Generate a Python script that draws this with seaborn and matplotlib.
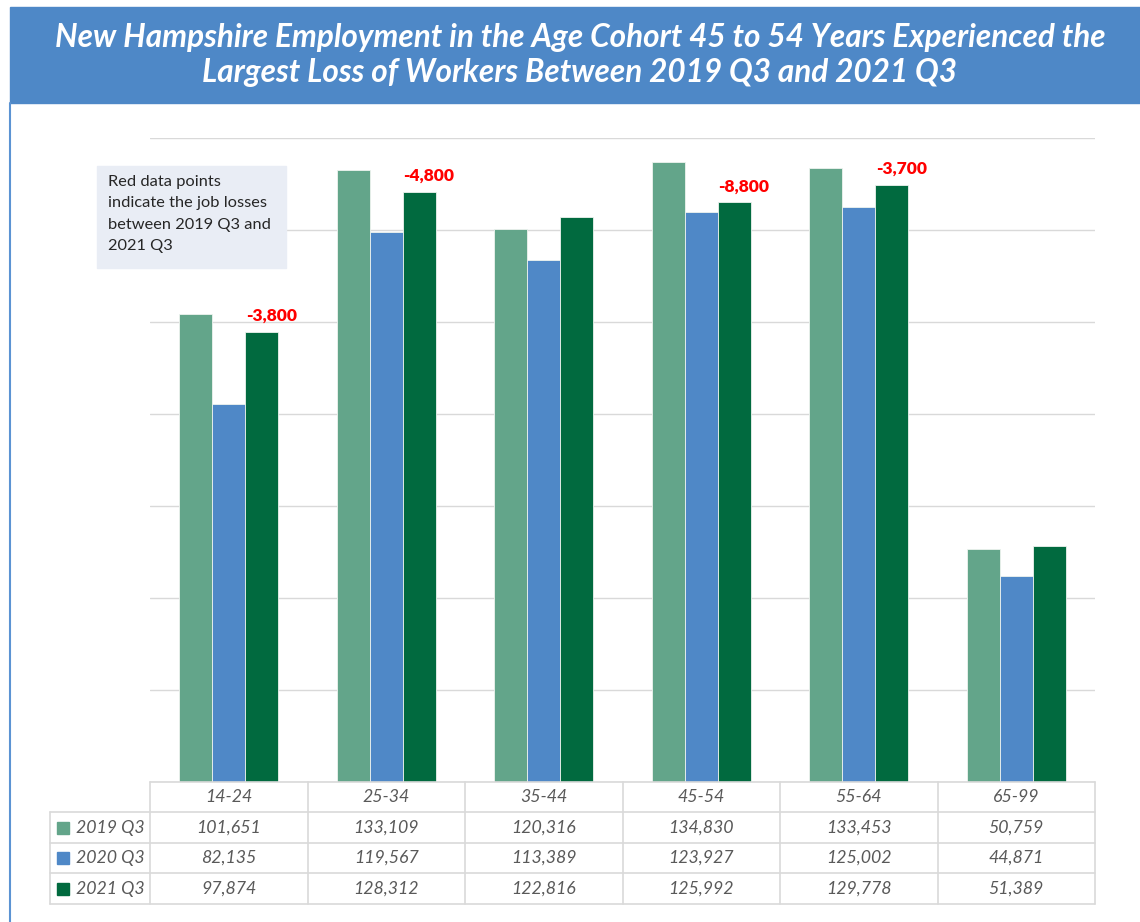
import matplotlib
matplotlib.use("Agg")
import matplotlib.pyplot as plt
import matplotlib.transforms as mtransforms
from matplotlib.patches import Rectangle
from matplotlib.lines import Line2D
import seaborn as sns
import pandas as pd

# Employment by age cohort, New Hampshire
cohorts = ["14-24", "25-34", "35-44", "45-54", "55-64", "65-99"]
quarters = ["2019 Q3", "2020 Q3", "2021 Q3"]
workers_2019q3 = [101651, 133109, 120316, 134830, 133453, 50759]
workers_2020q3 = [82135, 119567, 113389, 123927, 125002, 44871]
workers_2021q3 = [97874, 128312, 122816, 125992, 129778, 51389]
bar_colors = ["#63A58A", "#4F88C7", "#016A3F"]

title = ("New Hampshire Employment in the Age Cohort 45 to 54 Years Experienced the\n"
         "Largest Loss of Workers Between 2019 Q3 and 2021 Q3")
note = "Red data points\nindicate the job losses\nbetween 2019 Q3 and\n2021 Q3"

series = [workers_2019q3, workers_2020q3, workers_2021q3]
df = pd.DataFrame({
    "cohort": [c for _ in quarters for c in cohorts],
    "quarter": [q for q in quarters for _ in cohorts],
    "workers": [v for s in series for v in s],
})

sns.set_theme(style="white")
plt.rcParams["font.family"] = ["Lato", "DejaVu Sans"]

W, H = 1140, 922
fig = plt.figure(figsize=(W / 100, H / 100), dpi=100)
fig.patch.set_facecolor("white")


def fx(px):
    return px / W


def fy(py):
    return 1 - py / H


# Title banner and left frame line
fig.patches.append(Rectangle((fx(10), fy(103)), fx(1140) - fx(10), fy(7) - fy(103),
                             transform=fig.transFigure, color="#4E88C7", zorder=0))
fig.lines.append(Line2D([fx(10), fx(10)], [fy(103), fy(922)], transform=fig.transFigure,
                        color="#5B93D3", lw=1.5))
fig.text(fx(580), fy(55), title, ha="center", va="center", color="white",
         fontsize=22.7, fontweight="bold", fontstyle="italic", linespacing=1.27)

# Bar chart
ax = fig.add_axes([fx(150), fy(782), fx(1095) - fx(150), fy(138) - fy(782)])
sns.barplot(data=df, x="cohort", y="workers", hue="quarter", order=cohorts,
            hue_order=quarters, palette=bar_colors, saturation=1, width=0.63, gap=0,
            edgecolor="#EEF3EF", linewidth=0.6, legend=False, ax=ax)
ax.set_xlim(-0.5, len(cohorts) - 0.5)
ax.set_ylim(0, 140000)
ax.set_yticks(range(0, 140001, 20000))
ax.yaxis.grid(True, color="#D9D9D9", lw=1)
ax.set_axisbelow(True)
ax.set_xlabel("")
ax.set_ylabel("")
ax.set_xticklabels([])
ax.set_yticklabels([])
ax.tick_params(length=0)
for s in ax.spines.values():
    s.set_visible(False)

# Loss labels above the 2021 Q3 bars
for i, (a, b) in enumerate(zip(workers_2019q3, workers_2021q3)):
    diff = b - a
    if diff < 0:
        bar = ax.containers[2][i]
        xc = bar.get_x() + bar.get_width() / 2
        ax.annotate(f"{round(diff, -2):,.0f}", (xc, bar.get_height()),
                    xytext=(7, 8), textcoords="offset points", ha="center",
                    va="baseline", color="#FF0000", fontsize=12.5, fontweight="heavy")

# Note box
fig.patches.append(Rectangle((fx(97), fy(268)), fx(286) - fx(97), fy(166) - fy(268),
                             transform=fig.transFigure, color="#E9EDF5", zorder=1))
fig.text(fx(108), fy(175), note, ha="left", va="top", color="#262626",
         fontsize=11.8, linespacing=1.68, zorder=2)

# Data table under the axis
blend = mtransforms.blended_transform_factory(ax.transData, fig.transFigure)
grid_c = "#D9D9D9"
rows_y = [782, 812, 843, 873, 904]
n = len(cohorts)
for k in range(n + 1):
    fig.lines.append(Line2D([k - 0.5, k - 0.5], [fy(782), fy(904)], transform=blend,
                            color=grid_c, lw=1.2))
fig.lines.append(Line2D([-0.5, n - 0.5], [fy(782), fy(782)], transform=blend,
                        color=grid_c, lw=1.2))
for yy in rows_y[1:]:
    fig.lines.append(Line2D([fx(50), fx(1095)], [fy(yy), fy(yy)], transform=fig.transFigure,
                            color=grid_c, lw=1.2))
fig.lines.append(Line2D([fx(50), fx(50)], [fy(812), fy(904)], transform=fig.transFigure,
                        color=grid_c, lw=1.2))

txt_c = "#595959"
for i, c in enumerate(cohorts):
    fig.text(i, fy((rows_y[0] + rows_y[1]) / 2), c, transform=blend, ha="center",
             va="center", color=txt_c, fontsize=12.8, fontstyle="italic")
for r, (q, s, col) in enumerate(zip(quarters, series, bar_colors)):
    ymid = (rows_y[r + 1] + rows_y[r + 2]) / 2
    fig.patches.append(Rectangle((fx(57), fy(ymid + 6)), fx(12), fy(ymid - 6) - fy(ymid + 6),
                                 transform=fig.transFigure, color=col))
    fig.text(fx(145), fy(ymid), q, ha="right", va="center", color=txt_c,
             fontsize=12.8, fontstyle="italic")
    for i, v in enumerate(s):
        fig.text(i, fy(ymid), f"{v:,}", transform=blend, ha="center", va="center",
                 color=txt_c, fontsize=12.8, fontstyle="italic")

fig.savefig("out.png", dpi=100, facecolor="white")
